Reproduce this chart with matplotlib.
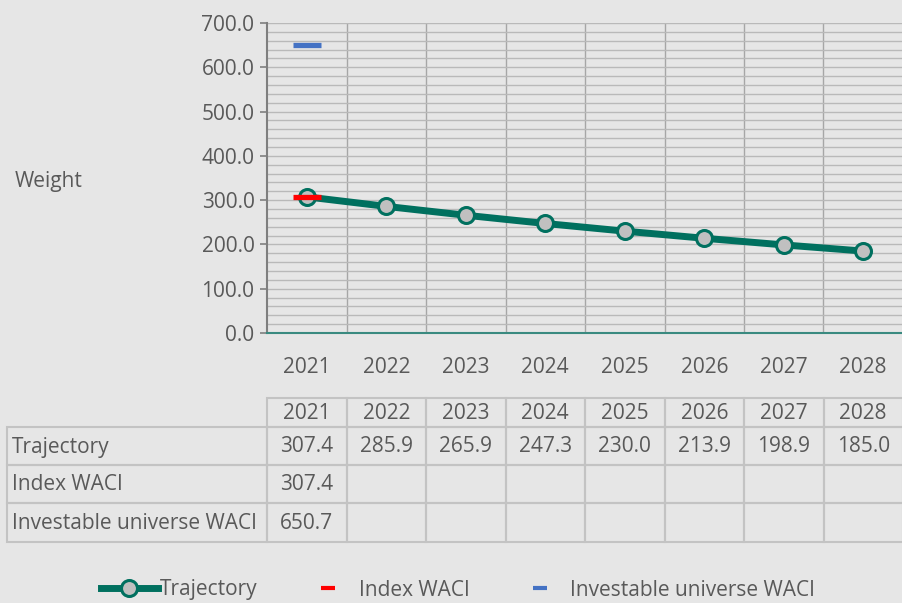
import matplotlib
matplotlib.use("Agg")
import matplotlib.pyplot as plt
from matplotlib.lines import Line2D
from matplotlib.ticker import MultipleLocator, FormatStrFormatter
from matplotlib.patches import Rectangle

years = ["2021", "2022", "2023", "2024", "2025", "2026", "2027", "2028"]
trajectory = [307.4, 285.9, 265.9, 247.3, 230.0, 213.9, 198.9, 185.0]
index_waci = [307.4]
investable_waci = [650.7]
row_names = ["Trajectory", "Index WACI", "Investable universe WACI"]

BG = "#e6e6e6"
TXT = "#595959"
TEAL = "#00705f"
FONT = ["Open Sans", "DejaVu Sans"]
FS = 15.0

plt.rcParams["font.family"] = FONT

W, H = 902, 603
fig = plt.figure(figsize=(W / 100, H / 100), dpi=100, facecolor=BG)

ax_l, ax_r, ax_t, ax_b = 267, 903, 23, 333
ax = fig.add_axes([ax_l / W, 1 - ax_b / H, (ax_r - ax_l) / W, (ax_b - ax_t) / H])
ax.set_facecolor(BG)
x = list(range(len(years)))
ax.set_xlim(-0.5, len(years) - 0.5)
ax.set_ylim(0, 700)

ax.yaxis.set_major_locator(MultipleLocator(100))
ax.yaxis.set_minor_locator(MultipleLocator(20))
ax.yaxis.set_major_formatter(FormatStrFormatter("%.1f"))
ax.grid(axis="y", which="both", color="#b9b9b9", lw=1.0, zorder=0)
for b in range(len(years) - 1):
    ax.axvline(b + 0.5, color="#a6a6a6", lw=1.0, zorder=0)

for s in ["top", "right"]:
    ax.spines[s].set_visible(False)
ax.spines["left"].set_color("#7f7f7f")
ax.spines["left"].set_linewidth(1.5)
ax.spines["bottom"].set_color("#3a8a80")
ax.spines["bottom"].set_linewidth(1.5)
ax.tick_params(axis="y", which="major", length=5, width=1.2, color="#7f7f7f",
               labelsize=FS, labelcolor=TXT, pad=4)
ax.tick_params(axis="y", which="minor", length=0)
ax.set_xticks(x)
ax.set_xticklabels(years)
ax.tick_params(axis="x", length=0, labelsize=FS, labelcolor=TXT, pad=17)

ax.plot(x, trajectory, color=TEAL, lw=5, marker="o", ms=11.5,
        mfc="#c0c0c0", mec=TEAL, mew=2.2, zorder=3, solid_capstyle="round")
ax.plot(x[:len(index_waci)], index_waci, ls="none", marker="_", ms=19.5,
        mew=3.8, color="#ff0000", zorder=4)
ax.plot(x[:len(investable_waci)], investable_waci, ls="none", marker="_", ms=19.5,
        mew=3.8, color="#4472c4", zorder=4)

fig.text(15 / W, 1 - 181 / H, "Weight", fontsize=FS, color=TXT, va="center", ha="left")

# data table
t_l, t_r, t_t, t_b = 7, 903, 398, 542
tax = fig.add_axes([t_l / W, 1 - t_b / H, (t_r - t_l) / W, (t_b - t_t) / H])
tax.axis("off")
unit = (ax_r - ax_l) / len(years)
left_u = -0.5 - (ax_l - t_l) / unit
tax.set_xlim(left_u, len(years) - 0.5)
tax.set_ylim(t_b, t_t)
row_edges = [398, 427, 465, 503, 542]
GRID = "#c3c3c3"
LW = 1.5

def cell(x0, x1, y0, y1):
    tax.add_patch(Rectangle((x0, y0), x1 - x0, y1 - y0, fill=False,
                            ec=GRID, lw=LW, clip_on=False))

for i, yr in enumerate(years):
    cell(i - 0.5, i + 0.5, row_edges[0], row_edges[1])
    tax.text(i, (row_edges[0] + row_edges[1]) / 2 + 1, yr, ha="center", va="center",
             fontsize=FS, color=TXT)

rows = [trajectory, index_waci, investable_waci]
for r, (name, vals) in enumerate(zip(row_names, rows)):
    y0, y1 = row_edges[r + 1], row_edges[r + 2]
    cell(left_u, -0.5, y0, y1)
    tax.text(left_u + 5 / unit, (y0 + y1) / 2 + 1, name, ha="left", va="center",
             fontsize=FS, color=TXT)
    for i in range(len(years)):
        cell(i - 0.5, i + 0.5, y0, y1)
        if i < len(vals):
            tax.text(i, (y0 + y1) / 2 + 1, f"{vals[i]:.1f}", ha="center", va="center",
                     fontsize=FS, color=TXT)

handles = [
    Line2D([], [], color=TEAL, lw=5, marker="o", ms=11.5, mfc="#c0c0c0", mec=TEAL, mew=2.2),
    Line2D([], [], color="#ff0000", ls="none", marker="_", ms=10, mew=3),
    Line2D([], [], color="#4472c4", ls="none", marker="_", ms=10, mew=3),
]
leg = fig.legend(handles, row_names, loc="center", bbox_to_anchor=(458 / W, 1 - 590 / H),
                 ncol=3, frameon=False, fontsize=FS, handlelength=2.75, handletextpad=0.1,
                 columnspacing=2.0, labelcolor=TXT, borderpad=0)

fig.savefig("out.png", dpi=100, facecolor=BG)
